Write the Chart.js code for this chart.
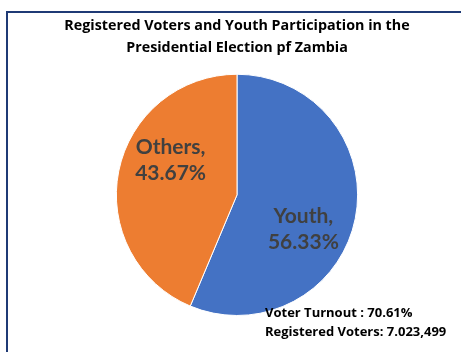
<!DOCTYPE html>
<html>
<head>
<meta charset="utf-8">
<script src="https://cdn.jsdelivr.net/npm/chart.js@4"></script>
<style>
  html, body { margin: 0; padding: 0; background: #fff; }
  #wrap { width: 461px; height: 352px; }
</style>
</head>
<body>
<div id="wrap"><canvas id="pie"></canvas></div>
<script>
// Pie data
const categories = ['Youth', 'Others'];
const shares = [56.33, 43.67];
const sliceColors = ['#4472C4', '#ED7D31'];

const titleLines = [
    'Registered Voters and Youth Participation in the',
    'Presidential Election pf Zambia'
];
const noteLines = [
    'Voter Turnout : 70.61%',
    'Registered Voters: 7.023,499'
];

const FONT = 'Lato, "Open Sans", sans-serif';
const TEXT_FONT = '"Open Sans", Lato, sans-serif';

// Frame around the whole chart (right and bottom edges run off the canvas)
const framePlugin = {
    id: 'frame',
    beforeDraw(chart) {
        const ctx = chart.ctx;
        ctx.save();
        ctx.strokeStyle = '#1F3A75';
        ctx.lineWidth = 2;
        ctx.strokeRect(7, 12, chart.width + 10, chart.height + 10);
        ctx.restore();
    }
};

// "Category, value%" labels inside each slice
const sliceLabels = {
    id: 'sliceLabels',
    afterDatasetsDraw(chart, args, opts) {
        const ctx = chart.ctx;
        const meta = chart.getDatasetMeta(0);
        ctx.save();
        ctx.font = 'bold 21px ' + FONT;
        ctx.fillStyle = '#404040';
        ctx.textAlign = 'center';
        ctx.textBaseline = 'middle';
        meta.data.forEach((arc, i) => {
            const p = arc.getProps(['x', 'y', 'startAngle', 'endAngle', 'outerRadius'], true);
            const mid = (p.startAngle + p.endAngle) / 2 + opts.turn;
            const r = p.outerRadius * opts.radius;
            const x = p.x + Math.cos(mid) * r;
            const y = p.y + Math.sin(mid) * r;
            ctx.fillText(categories[i] + ',', x, y - 13);
            ctx.fillText(shares[i].toFixed(2) + '%', x, y + 13);
        });
        ctx.restore();
    }
};

// Turnout note in the lower right corner
const notePlugin = {
    id: 'note',
    afterDraw(chart) {
        const ctx = chart.ctx;
        ctx.save();
        ctx.font = 'bold 13px ' + TEXT_FONT;
        ctx.fillStyle = '#000';
        ctx.textBaseline = 'middle';
        noteLines.forEach((t, i) => ctx.fillText(t, 265, 313 + i * 19));
        ctx.restore();
    }
};

new Chart(document.getElementById('pie'), {
    type: 'pie',
    data: {
        labels: categories,
        datasets: [{
            data: shares,
            backgroundColor: sliceColors,
            borderColor: '#ffffff',
            borderWidth: 1
        }]
    },
    options: {
        responsive: true,
        maintainAspectRatio: false,
        animation: false,
        layout: { padding: { top: 0, bottom: 36, left: 20, right: 7 } },
        plugins: {
            legend: { display: false },
            tooltip: { enabled: false },
            title: {
                display: true,
                text: titleLines,
                color: '#000',
                font: { family: TEXT_FONT, size: 14.3, weight: 'bold', lineHeight: 1.6 },
                padding: { top: 14, bottom: 14 }
            },
            sliceLabels: { turn: 16 * Math.PI / 180, radius: 0.62 }
        }
    },
    plugins: [framePlugin, sliceLabels, notePlugin]
});
</script>
</body>
</html>
